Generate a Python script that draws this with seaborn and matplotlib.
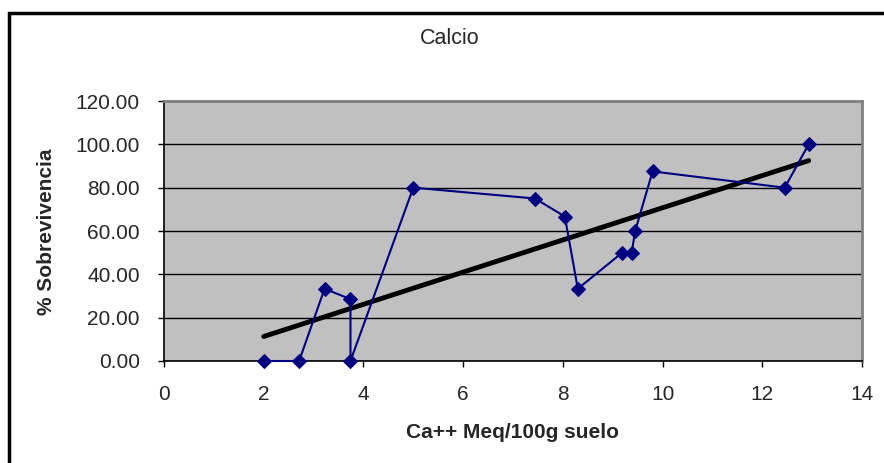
import numpy as np
import pandas as pd
import matplotlib
matplotlib.use("Agg")
import matplotlib.pyplot as plt
import seaborn as sns
from matplotlib.patches import Rectangle

# Data
calcio = [2.00, 2.71, 3.22, 3.74, 3.74, 5.00, 7.44, 8.04, 8.30, 9.19, 9.38, 9.45, 9.80, 12.45, 12.93]
sobrevivencia = [0.00, 0.00, 33.33, 28.57, 0.00, 80.00, 75.00, 66.67, 33.33, 50.00, 50.00, 60.00, 87.50, 80.00, 100.00]
x_ticks = [0, 2, 4, 6, 8, 10, 12, 14]
y_ticks = [0, 20, 40, 60, 80, 100, 120]
title = "Calcio"
x_label = "Ca++ Meq/100g suelo"
y_label = "% Sobrevivencia"

df = pd.DataFrame({"x": calcio, "y": sobrevivencia})

sns.set_theme(style="white")
plt.rcParams['font.family'] = ['Liberation Sans', 'DejaVu Sans']

W, H = 884, 463
fig = plt.figure(figsize=(W / 100, H / 100), dpi=100)
ax = fig.add_axes([164 / W, 1 - 361 / H, (862 - 164) / W, (361 - 101) / H])
ax.set_facecolor("#C0C0C0")

sns.lineplot(data=df, x="x", y="y", sort=False, estimator=None, errorbar=None, ax=ax,
             color="#000080", linewidth=1.5, marker="D", markersize=7.5,
             markeredgecolor="#000080", markerfacecolor="#000080", zorder=5,
             clip_on=False)
sns.regplot(data=df, x="x", y="y", ax=ax, scatter=False, ci=None, truncate=True,
            line_kws=dict(color="black", linewidth=3.5, zorder=4))

ax.set_xlim(0, 14)
ax.set_ylim(0, 120)
ax.set_xticks(x_ticks)
ax.set_yticks(y_ticks)
ax.set_yticklabels([f"{v:.2f}" for v in y_ticks])
ax.set_xticklabels([str(v) for v in x_ticks])
ax.yaxis.grid(True, color="black", linewidth=1.0, zorder=1)
ax.set_axisbelow(True)

ax.tick_params(axis="both", direction="out", length=4.5, width=1, color="black",
               labelsize=15, pad=13, left=True, bottom=True)
for s in ["top", "right"]:
    ax.spines[s].set_color("#808080")
    ax.spines[s].set_linewidth(2)
for s in ["left", "bottom"]:
    ax.spines[s].set_color("black")
    ax.spines[s].set_linewidth(1.2)

ax.set_xlabel("")
ax.set_ylabel("")
fig.text(450 / W, 1 - 38 / H, title, ha="center", va="center", fontsize=15.5)
fig.text(512 / W, 1 - 433 / H, x_label, ha="center", va="center", fontsize=15, fontweight="bold")
fig.text(47 / W, 1 - 232 / H, y_label, ha="center", va="center", fontsize=15,
         fontweight="bold", rotation=90)

# outer chart border
fig.patches.append(Rectangle((9 / W, -0.05), 1.1, 1 - 13 / H + 0.05, transform=fig.transFigure,
                             fill=False, edgecolor="black", linewidth=2.5, zorder=10))

fig.savefig("out.png", dpi=100)
